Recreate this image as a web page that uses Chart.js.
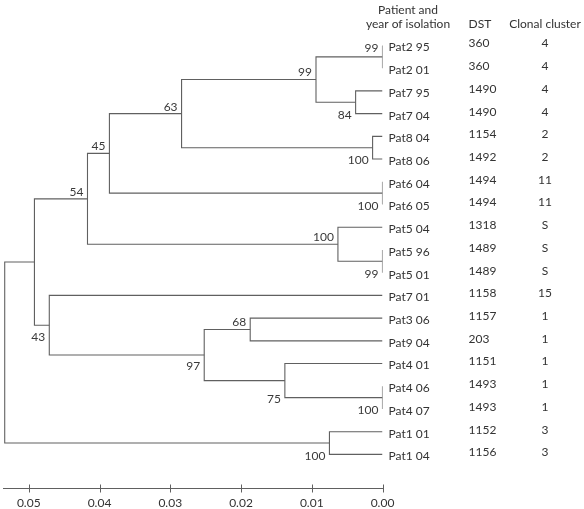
<!DOCTYPE html>
<html>
<head>
<meta charset="utf-8">
<script src="https://cdn.jsdelivr.net/npm/chart.js@4.4.1/dist/chart.umd.min.js"></script>
<style>
  html, body { margin: 0; padding: 0; background: #fff; }
  #wrap { width: 584px; height: 509px; }
</style>
</head>
<body>
<div id="wrap"><canvas id="canvas1"></canvas></div>
<script>
// leaves, top to bottom
var isolates = ['Pat2 95','Pat2 01','Pat7 95','Pat7 04','Pat8 04','Pat8 06','Pat6 04','Pat6 05',
  'Pat5 04','Pat5 96','Pat5 01','Pat7 01','Pat3 06','Pat9 04','Pat4 01','Pat4 06','Pat4 07',
  'Pat1 01','Pat1 04'];
var dst = ['360','360','1490','1490','1154','1492','1494','1494','1318','1489','1489','1158',
  '1157','203','1151','1493','1493','1152','1156'];
var clonal = ['4','4','4','4','2','2','11','11','S','S','S','15','1','1','1','1','1','3','3'];

// internal nodes (ids continue after the leaves): children and distance
var nodeLeft   = [0, 2, 19, 4, 21, 6, 23, 9, 8, 25, 12, 15, 14, 29, 11, 28, 17, 34];
var nodeRight  = [1, 3, 20, 5, 22, 7, 24, 10, 26, 27, 13, 16, 30, 31, 32, 33, 18, 35];
var nodeHeight = [0, 0.0038, 0.0094, 0.0014, 0.0284, 0, 0.0386, 0, 0.0063, 0.0417,
  0.0187, 0, 0.0138, 0.0252, 0.0471, 0.0492, 0.0075, 0.0534];
var bootstrap  = [99, 84, 99, 100, 63, 100, 45, 99, 100, 54, 68, 100, 75, 97, 43, null, 100, null];
// where each support value is written next to its node
var labelSide  = ['top','bottom','above','bottom','above','bottom','above','bottom','above','above',
  'above','bottom','bottom','below','below','','bottom',''];

var distTicks = [0, 0.01, 0.02, 0.03, 0.04, 0.05];

var nLeaf = isolates.length;
var posY = [], posX = [], spanTop = [], spanBot = [];
for (var i = 0; i < nLeaf; i++) { posY.push(i); posX.push(0); }
for (var j = 0; j < nodeLeft.length; j++) {
  var a = nodeLeft[j], b = nodeRight[j];
  posY.push((posY[a] + posY[b]) / 2);
  posX.push(nodeHeight[j]);
  spanTop.push(Math.min(posY[a], posY[b]));
  spanBot.push(Math.max(posY[a], posY[b]));
}

var LINE = '#606060';
var datasets = [];
for (var j = 0; j < nodeLeft.length; j++) {
  var a = nodeLeft[j], b = nodeRight[j], h = nodeHeight[j];
  datasets.push({
    data: [{x: posX[a], y: posY[a]}, {x: h, y: posY[a]}, {x: h, y: posY[b]}, {x: posX[b], y: posY[b]}],
    showLine: true, borderColor: LINE, borderWidth: 1.1, pointRadius: 0, fill: false, tension: 0
  });
}

var FONT = 'Lato, "Open Sans", sans-serif';
var TEXT = '#333333';

var treeText = {
  id: 'treeText',
  afterDraw: function(chart) {
    var c = chart.ctx, xs = chart.scales.x, ys = chart.scales.y;
    var area = chart.chartArea;
    c.save();
    c.fillStyle = TEXT;
    c.font = '12px ' + FONT;
    c.textBaseline = 'middle';
    var x0 = xs.getPixelForValue(0);
    var colName = x0 + 6;
    var colDst = x0 + 86;
    var colCl = x0 + 162.5;
    for (var i = 0; i < nLeaf; i++) {
      var py = ys.getPixelForValue(i);
      c.textAlign = 'left';
      c.fillText(isolates[i], colName, py + 2);
      c.fillText(dst[i], colDst, py - 2);
      c.textAlign = 'center';
      c.fillText(clonal[i], colCl, py - 2);
    }
    // headers
    c.textAlign = 'center';
    c.fillText('Patient and', x0 + 25.5, 10);
    c.fillText('year of isolation', x0 + 25.5, 24.5);
    c.textAlign = 'left';
    c.fillText('DST', colDst, 24.5);
    c.textAlign = 'center';
    c.fillText('Clonal cluster', colCl, 24.5);

    // support values
    c.fillStyle = '#3a3a3a';
    c.textAlign = 'right';
    for (var j = 0; j < nodeLeft.length; j++) {
      if (bootstrap[j] === null) continue;
      var nx = xs.getPixelForValue(nodeHeight[j]);
      var ny = ys.getPixelForValue(posY[nLeaf + j]);
      var tx = nx - 4, ty;
      if (labelSide[j] === 'top') ty = ys.getPixelForValue(spanTop[j]) + 3;
      else if (labelSide[j] === 'bottom') ty = ys.getPixelForValue(spanBot[j]) + 1.5;
      else if (labelSide[j] === 'above') ty = ny - 7;
      else ty = ny + 11.5;
      c.fillText(String(bootstrap[j]), tx, ty);
    }

    // tick marks crossing the distance axis
    c.strokeStyle = LINE;
    c.lineWidth = 1;
    var by = area.bottom;
    xs.ticks.forEach(function(t) {
      var px = Math.round(xs.getPixelForValue(t.value)) + 0.5;
      c.beginPath();
      c.moveTo(px, by - 4);
      c.lineTo(px, by + 4);
      c.stroke();
    });
    c.restore();
  }
};

window.onload = function() {
  var ctx = document.getElementById('canvas1').getContext('2d');
  new Chart(ctx, {
    type: 'scatter',
    data: { datasets: datasets },
    options: {
      responsive: true,
      maintainAspectRatio: false,
      animation: false,
      layout: { padding: { left: 3.3, right: 201.5, top: 11.4, bottom: 0 } },
      plugins: { legend: { display: false }, tooltip: { enabled: false } },
      scales: {
        x: {
          type: 'linear', reverse: true, min: 0, max: 0.0536,
          afterBuildTicks: function(scale) {
            scale.ticks = distTicks.map(function(v) { return {value: v}; });
          },
          afterFit: function(scale) { scale.height = 20.5; },
          grid: { display: false, drawTicks: false },
          border: { display: true, color: LINE, width: 1 },
          ticks: {
            padding: 7, color: TEXT, maxRotation: 0,
            font: { family: FONT, size: 12 },
            callback: function(v) { return Number(v).toFixed(2); }
          }
        },
        y: {
          type: 'linear', reverse: true, min: -1.5, max: 19.5, display: false
        }
      }
    },
    plugins: [treeText]
  });
};
</script>
</body>
</html>
